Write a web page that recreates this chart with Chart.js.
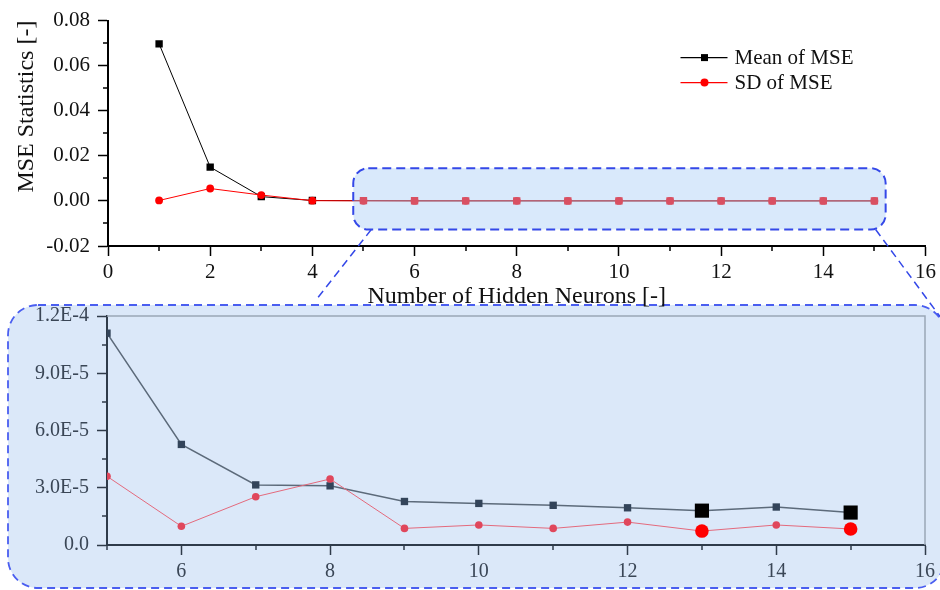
<!DOCTYPE html>
<html><head><meta charset="utf-8">
<script src="https://cdn.jsdelivr.net/npm/chart.js@4.4.1/dist/chart.umd.min.js"></script>
<style>
html,body{margin:0;padding:0;background:#fff}
#wrap{position:relative;width:940px;height:590px;overflow:hidden}
canvas{position:absolute;left:0;top:0}
</style>
</head><body>
<div id="wrap"><canvas id="inset" width="940" height="590"></canvas><canvas id="main" width="940" height="320"></canvas></div>
<script>
// ---------- data ----------
const neurons = [1, 2, 3, 4, 5, 6, 7, 8, 9, 10, 11, 12, 13, 14, 15];
const meanMSE = [0.0697, 0.0150, 0.0019, 0.0002, 1.11e-4, 5.27e-5, 3.15e-5, 3.10e-5, 2.28e-5, 2.18e-5, 2.08e-5, 1.95e-5, 1.80e-5, 1.99e-5, 1.70e-5];
const sdMSE   = [0.0002, 0.0055, 0.0026, 0.0001, 3.60e-5, 0.98e-5, 2.53e-5, 3.46e-5, 0.87e-5, 1.05e-5, 0.87e-5, 1.20e-5, 0.73e-5, 1.05e-5, 0.84e-5];
const bestNeurons = [13, 15];
const seriesNames = ['Mean of MSE', 'SD of MSE'];
const xTitle = 'Number of Hidden Neurons [-]';
const yTitle = 'MSE Statistics [-]';
const topXTicks = [0, 2, 4, 6, 8, 10, 12, 14, 16];
const topXTickLabels = ['0', '2', '4', '6', '8', '10', '12', '14', '16'];
const topYTicks = [-0.02, 0, 0.02, 0.04, 0.06, 0.08];
const topYTickLabels = ['-0.02', '0.00', '0.02', '0.04', '0.06', '0.08'];
const insetXTicks = [6, 8, 10, 12, 14, 16];
const insetXTickLabels = ['6', '8', '10', '12', '14', '16'];
const insetYTicks = [0, 3e-5, 6e-5, 9e-5, 1.2e-4];
const insetYTickLabels = ['0.0', '3.0E-5', '6.0E-5', '9.0E-5', '1.2E-4'];
const insetFrom = 5;

// ---------- helpers ----------
const FONT = '"Liberation Serif", "Times New Roman", serif';
function pts(ys, from) {
  return neurons.map((x, i) => ({x: x, y: ys[i]})).filter(p => p.x >= from);
}
function rrect(ctx, x, y, w, h, r) {
  ctx.beginPath();
  ctx.moveTo(x + r, y);
  ctx.lineTo(x + w - r, y);
  ctx.arcTo(x + w, y, x + w, y + r, r);
  ctx.lineTo(x + w, y + h - r);
  ctx.arcTo(x + w, y + h, x + w - r, y + h, r);
  ctx.lineTo(x + r, y + h);
  ctx.arcTo(x, y + h, x, y + h - r, r);
  ctx.lineTo(x, y + r);
  ctx.arcTo(x, y, x + r, y, r);
  ctx.closePath();
}
const minorTicks = {
  id: 'minorTicks',
  afterDraw(chart, args, opts) {
    const ctx = chart.ctx;
    ctx.save();
    ctx.strokeStyle = opts.color;
    ctx.lineWidth = opts.width;
    ['x', 'y'].forEach(id => {
      const s = chart.scales[id];
      const step = opts[id];
      const majors = s.ticks.map(t => t.value);
      const n = Math.round((s.max - s.min) / step);
      for (let i = 0; i <= n; i++) {
        const v = s.min + i * step;
        if (majors.some(m => Math.abs(m - v) < step * 1e-3)) continue;
        const p = Math.round(s.getPixelForValue(v));
        ctx.beginPath();
        if (id === 'x') { ctx.moveTo(p, s.top); ctx.lineTo(p, s.top + opts.length); }
        else { ctx.moveTo(s.right, p); ctx.lineTo(s.right - opts.length, p); }
        ctx.stroke();
      }
    });
    ctx.restore();
  }
};

// ---------- main chart ----------
const zoomBox = {
  id: 'zoomBox',
  afterDatasetsDraw(chart) {
    const {ctx, scales: {x, y}} = chart;
    const l = x.getPixelForValue(4.8), r = x.getPixelForValue(15.22);
    const t = y.getPixelForValue(0.0145), b = y.getPixelForValue(-0.0127);
    ctx.save();
    rrect(ctx, l, t, r - l, b - t, 15);
    ctx.fillStyle = 'rgba(160,200,245,0.4)';
    ctx.fill();
    ctx.setLineDash([9, 5]);
    ctx.lineWidth = 2;
    ctx.strokeStyle = '#3448e8';
    ctx.stroke();
    ctx.setLineDash([8, 5]);
    ctx.lineWidth = 1.5;
    ctx.beginPath();
    ctx.moveTo(l + 18, b); ctx.lineTo(316, 300);
    ctx.moveTo(r - 10, b); ctx.lineTo(947, 326);
    ctx.stroke();
    ctx.restore();
  },
  afterDraw(chart) {
    const {ctx, chartArea} = chart;
    const x0 = chartArea.right - 245, rows = [chartArea.top + 37, chartArea.top + 62];
    ctx.save();
    chart.data.datasets.forEach((ds, i) => {
      const yy = rows[i];
      ctx.strokeStyle = ds.legendColor;
      ctx.lineWidth = 1.2;
      ctx.beginPath(); ctx.moveTo(x0, yy); ctx.lineTo(x0 + 47, yy); ctx.stroke();
      ctx.fillStyle = ds.legendColor;
      if (ds.pointStyle === 'rect') ctx.fillRect(x0 + 20.5, yy - 3.5, 7, 7);
      else { ctx.beginPath(); ctx.arc(x0 + 24, yy, 4, 0, Math.PI * 2); ctx.fill(); }
      ctx.fillStyle = '#111';
      ctx.font = '21px ' + FONT;
      ctx.textBaseline = 'middle';
      ctx.fillText(ds.label, x0 + 54, yy + 1);
    });
    ctx.restore();
  }
};

new Chart(document.getElementById('main'), {
  type: 'line',
  data: {
    datasets: [
      {label: seriesNames[0], data: pts(meanMSE, 1), order: 1, legendColor: '#000',
       borderColor: '#000', borderWidth: 1, pointStyle: 'rect', pointRadius: 5.2, pointBorderWidth: 0,
       pointBackgroundColor: c => (c.raw && c.raw.x >= insetFrom) ? '#ff0000' : '#000'},
      {label: seriesNames[1], data: pts(sdMSE, 1), order: 0, legendColor: '#ff0000',
       borderColor: '#ff0000', borderWidth: 1, pointStyle: 'circle', pointRadius: 3.9, pointBorderWidth: 0,
       pointBackgroundColor: '#ff0000'}
    ]
  },
  options: {
    responsive: false, animation: false, events: [],
    layout: {padding: {top: 16, right: 12, left: 0, bottom: 0}},
    plugins: {legend: {display: false}, tooltip: {enabled: false},
      minorTicks: {x: 1, y: 0.01, length: 5, color: '#000', width: 1.5}},
    scales: {
      x: {type: 'linear', min: 0, max: 16,
        afterBuildTicks: s => { s.ticks = topXTicks.map(v => ({value: v})); },
        afterFit: s => { s.height = 74; },
        border: {color: '#000', width: 2},
        grid: {drawOnChartArea: false, tickLength: 10, tickColor: '#000', tickWidth: 1.5},
        ticks: {color: '#111', font: {family: FONT, size: 21}, padding: 4, maxRotation: 0,
          callback: (v, i) => topXTickLabels[i]},
        title: {display: true, text: xTitle, color: '#111', font: {family: FONT, size: 24}, padding: {top: 0, bottom: 9}}
      },
      y: {type: 'linear', min: -0.02, max: 0.08,
        afterBuildTicks: s => { s.ticks = topYTicks.map(v => ({value: v})); },
        afterFit: s => { s.width = 108; },
        border: {color: '#000', width: 2},
        grid: {drawOnChartArea: false, tickLength: 10, tickColor: '#000', tickWidth: 1.5},
        ticks: {color: '#111', font: {family: FONT, size: 21}, padding: 8,
          callback: (v, i) => topYTickLabels[i]},
        title: {display: true, text: yTitle, align: 'end', color: '#111', font: {family: FONT, size: 24}, padding: {top: 12, bottom: 0}}
      }
    }
  },
  plugins: [zoomBox, minorTicks]
});

// ---------- inset chart ----------
const insetDeco = {
  id: 'insetDeco',
  beforeDraw(chart) {
    const ctx = chart.ctx;
    ctx.save();
    rrect(ctx, 8, 305, 937, 283, 30);
    ctx.fillStyle = '#dbe8f9';
    ctx.fill();
    ctx.setLineDash([8, 5]);
    ctx.lineWidth = 1.8;
    ctx.strokeStyle = '#4a5ef0';
    ctx.stroke();
    ctx.restore();
  },
  beforeDatasetsDraw(chart) {
    const {ctx, chartArea: a} = chart;
    ctx.save();
    ctx.strokeStyle = '#9aa7b6';
    ctx.lineWidth = 1.5;
    ctx.beginPath();
    ctx.moveTo(a.left, a.top); ctx.lineTo(a.right, a.top); ctx.lineTo(a.right, a.bottom);
    ctx.stroke();
    ctx.restore();
  }
};
const isBest = c => c.raw && bestNeurons.includes(c.raw.x);

new Chart(document.getElementById('inset'), {
  type: 'line',
  data: {
    datasets: [
      {label: seriesNames[0], data: pts(meanMSE, insetFrom), order: 1,
       borderColor: '#5c6a7a', borderWidth: 1.5, pointStyle: 'rect', pointBorderWidth: 0,
       pointRadius: c => isBest(c) ? 10 : 5.2,
       pointBackgroundColor: c => isBest(c) ? '#000' : '#33445a'},
      {label: seriesNames[1], data: pts(sdMSE, insetFrom), order: 0,
       borderColor: '#e46a7d', borderWidth: 1, pointStyle: 'circle', pointBorderWidth: 0,
       pointRadius: c => isBest(c) ? 6.8 : 3.8,
       pointBackgroundColor: c => isBest(c) ? '#ff0000' : '#e0475c'}
    ]
  },
  options: {
    responsive: false, animation: false, events: [],
    layout: {padding: {top: 316, right: 14, left: 0, bottom: 0}},
    plugins: {legend: {display: false}, tooltip: {enabled: false},
      minorTicks: {x: 1, y: 1.5e-5, length: 5, color: '#2f3b4a', width: 1.5}},
    scales: {
      x: {type: 'linear', min: 5, max: 16,
        afterBuildTicks: s => { s.ticks = insetXTicks.map(v => ({value: v})); },
        afterFit: s => { s.height = 45; },
        border: {color: '#2f3b4a', width: 2},
        grid: {drawOnChartArea: false, tickLength: 10, tickColor: '#2f3b4a', tickWidth: 1.5},
        ticks: {color: '#3a4656', font: {family: FONT, size: 20}, padding: 5, maxRotation: 0,
          callback: (v, i) => insetXTickLabels[i]}
      },
      y: {type: 'linear', min: 0, max: 1.2e-4,
        afterBuildTicks: s => { s.ticks = insetYTicks.map(v => ({value: v})); },
        afterFit: s => { s.width = 107; },
        border: {color: '#2f3b4a', width: 2},
        grid: {drawOnChartArea: false, tickLength: 10, tickColor: '#2f3b4a', tickWidth: 1.5},
        ticks: {color: '#3a4656', font: {family: FONT, size: 20}, padding: 8,
          callback: (v, i) => insetYTickLabels[i]}
      }
    }
  },
  plugins: [insetDeco, minorTicks]
});
</script>
</body></html>
